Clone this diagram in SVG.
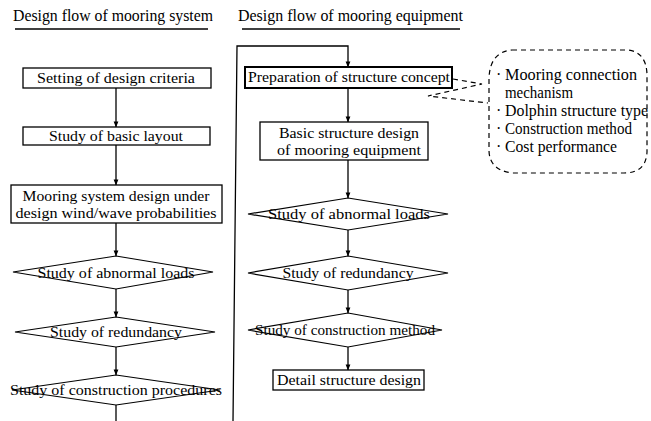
<svg xmlns="http://www.w3.org/2000/svg" width="651" height="421" viewBox="0 0 651 421">
<defs>
<marker id="ah" viewBox="0 0 8 8" refX="7.5" refY="4" markerWidth="6" markerHeight="6" markerUnits="userSpaceOnUse" orient="auto">
<path d="M0,0.8 L8,4 L0,7.2 Z" fill="#000"/>
</marker>
<style>
text{font-family:"Liberation Serif","Times New Roman",serif;font-size:15px;fill:#000}
.t{font-size:16px}
.c{text-anchor:middle}
.box{fill:#fff;stroke:#000;stroke-width:1.3}
.bold{stroke-width:2}
.dia{fill:#fff;stroke:#000;stroke-width:1.2}
.ln{fill:none;stroke:#000;stroke-width:1.3}
.ar{fill:none;stroke:#000;stroke-width:1.3;marker-end:url(#ah)}
.dash{fill:none;stroke:#000;stroke-width:1.2;stroke-dasharray:5,4}
</style>
</defs>
<rect width="651" height="421" fill="#fff"/>
<g id="titles">
<text class="t" x="13" y="21" textLength="200" lengthAdjust="spacingAndGlyphs">Design flow of mooring system</text>
<line class="ln" x1="15" y1="29" x2="208" y2="29"/>
<text class="t" x="238" y="21" textLength="225" lengthAdjust="spacingAndGlyphs">Design flow of mooring equipment</text>
<line class="ln" x1="242" y1="29" x2="460" y2="29"/>
</g>
<g id="connectors">
<line class="ar" x1="116" y1="88" x2="116" y2="127"/>
<line class="ar" x1="116" y1="145" x2="116" y2="185"/>
<line class="ar" x1="116" y1="223" x2="116" y2="256"/>
<line class="ar" x1="116" y1="289" x2="116" y2="317"/>
<line class="ar" x1="116" y1="347" x2="116" y2="375"/>
<line class="ln" x1="116" y1="405" x2="116" y2="421"/>
<polyline class="ar" points="233,421 237,46 348,46 348,67"/>
<line class="ar" x1="348" y1="88" x2="348" y2="122"/>
<line class="ar" x1="348" y1="160" x2="348" y2="198"/>
<line class="ar" x1="348" y1="230" x2="348" y2="256"/>
<line class="ar" x1="348" y1="290" x2="348" y2="313"/>
<line class="ar" x1="348" y1="347" x2="348" y2="370"/>
<polyline class="dash" points="453,79 482,84 428,96 488,103"/>
</g>
<g id="setting">
<rect class="box" x="23" y="68" width="188" height="20"/>
<text class="c" x="116" y="83" textLength="158" lengthAdjust="spacingAndGlyphs">Setting of design criteria</text>
</g>
<g id="layout">
<rect class="box" x="23" y="127" width="187" height="18"/>
<text class="c" x="116" y="141" textLength="134" lengthAdjust="spacingAndGlyphs">Study of basic layout</text>
</g>
<g id="mooring-design">
<rect class="box" x="11" y="185" width="211" height="38"/>
<text class="c" x="116" y="201" textLength="187" lengthAdjust="spacingAndGlyphs">Mooring system design under</text>
<text class="c" x="116" y="218" textLength="201" lengthAdjust="spacingAndGlyphs">design wind/wave probabilities</text>
</g>
<g id="abnormal-left">
<polygon class="dia" points="116,256 213,272 116,289 13,272"/>
<text class="c" x="116" y="278" textLength="157" lengthAdjust="spacingAndGlyphs">Study of abnormal loads</text>
</g>
<g id="redundancy-left">
<polygon class="dia" points="116,317 215,332 116,347 15,332"/>
<text class="c" x="116" y="337" textLength="132" lengthAdjust="spacingAndGlyphs">Study of redundancy</text>
</g>
<g id="construction-left">
<polygon class="dia" points="116,375 220,390 116,405 12,390"/>
<text class="c" x="116" y="395" textLength="212" lengthAdjust="spacingAndGlyphs">Study of construction procedures</text>
</g>
<g id="preparation">
<rect class="box bold" x="245" y="67" width="207" height="21"/>
<text class="c" x="349" y="82" textLength="202" lengthAdjust="spacingAndGlyphs">Preparation of structure concept</text>
</g>
<g id="basic-structure">
<rect class="box" x="260" y="122" width="168" height="38"/>
<text class="c" x="349" y="138" textLength="140" lengthAdjust="spacingAndGlyphs">Basic structure design</text>
<text class="c" x="349" y="155" textLength="144" lengthAdjust="spacingAndGlyphs">of mooring equipment</text>
</g>
<g id="abnormal-right">
<polygon class="dia" points="348,198 448,214 348,230 248,214"/>
<text class="c" x="349" y="219" textLength="162" lengthAdjust="spacingAndGlyphs">Study of abnormal loads</text>
</g>
<g id="redundancy-right">
<polygon class="dia" points="348,256 448,273 348,290 248,273"/>
<text class="c" x="348" y="278" textLength="131" lengthAdjust="spacingAndGlyphs">Study of redundancy</text>
</g>
<g id="construction-right">
<polygon class="dia" points="348,313 442,330 348,347 248,330"/>
<text class="c" x="345" y="335" textLength="180" lengthAdjust="spacingAndGlyphs">Study of construction method</text>
</g>
<g id="detail">
<rect class="box" x="273" y="370" width="151" height="20"/>
<text class="c" x="349" y="385" textLength="144" lengthAdjust="spacingAndGlyphs">Detail structure design</text>
</g>
<g id="callout">
<path class="dash" d="M512,50 L628,50 Q646,52 647,74 L647,152 Q646,173 624,173 L512,173 Q489,170 489,150 L489,78 Q490,52 512,50 Z"/>
<text class="t" x="496" y="80">·</text>
<text class="t" x="505" y="80" textLength="132" lengthAdjust="spacingAndGlyphs">Mooring connection</text>
<text class="t" x="505" y="98" textLength="68" lengthAdjust="spacingAndGlyphs">mechanism</text>
<text class="t" x="496" y="116">·</text>
<text class="t" x="505" y="116" textLength="143" lengthAdjust="spacingAndGlyphs">Dolphin structure type</text>
<text class="t" x="496" y="134">·</text>
<text class="t" x="505" y="134" textLength="127" lengthAdjust="spacingAndGlyphs">Construction method</text>
<text class="t" x="496" y="152">·</text>
<text class="t" x="505" y="152" textLength="112" lengthAdjust="spacingAndGlyphs">Cost performance</text>
</g>
</svg>
